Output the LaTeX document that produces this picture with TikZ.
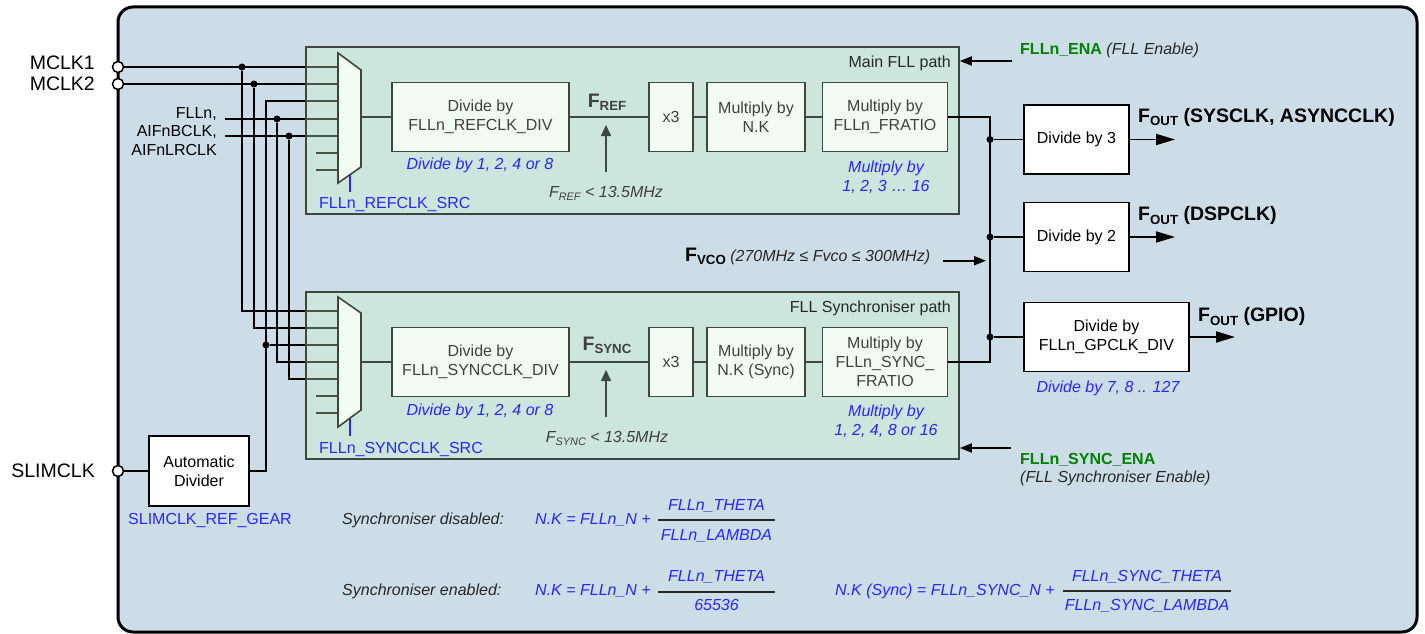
\documentclass[tikz,border=0pt]{standalone}
\usepackage{fontspec}
\setmainfont{Liberation Sans}
\usetikzlibrary{arrows.meta,calc}
\definecolor{bgblue}{RGB}{204,221,232}
\definecolor{panelc}{RGB}{204,244,203}
\definecolor{boxfill}{RGB}{242,252,242}
\definecolor{ink}{RGB}{62,72,62}
\definecolor{inktext}{RGB}{64,64,64}
\definecolor{myblue}{RGB}{40,40,250}
\definecolor{enagreen}{RGB}{0,128,0}
\definecolor{dark}{RGB}{40,40,40}
\newcommand{\fsub}[1]{\raisebox{-0.2em}{\scalebox{0.68}{#1}}}

\begin{document}
\begin{tikzpicture}[x=1pt,y=-1pt,
  every node/.style={font=\fontsize{16}{19}\selectfont,inner sep=0pt},
  wire/.style={line width=1.8pt},
  inkline/.style={line width=1.6pt,draw=ink},
  blk/.style={draw=ink,fill=boxfill,line width=1.6pt,text=inktext,align=center,minimum height=69pt},
  wbox/.style={draw=black,fill=white,line width=1.6pt,align=center,minimum height=69pt},
  dot/.style={circle,fill=black,minimum size=7pt},
  port/.style={circle,draw=black,fill=white,line width=1.5pt,minimum size=11pt},
  panel/.style={draw=ink,line width=1.6pt,fill=panelc,fill opacity=0.35,minimum width=653pt,minimum height=167pt},
  bluetxt/.style={text=myblue,font=\fontsize{16}{19}\selectfont\itshape},
  eqtxt/.style={text=dark,font=\fontsize{16}{19}\selectfont\itshape},
  big/.style={font=\fontsize{19.5}{22}\selectfont},
  outarrow/.style={line width=1.8pt,-{Triangle[length=19pt,width=11pt]}},
  enarrow/.style={line width=1.8pt,-{Triangle[length=12pt,width=9pt]}},
  uparrow/.style={inkline,-{Triangle[length=11pt,width=10pt]}},
  fracbar/.style={line width=2pt,draw=dark},
]
\useasboundingbox (0,0) rectangle (1425,634);

%外枠
\draw[line width=3pt,fill=bgblue,rounded corners=15pt](118,7)rectangle(1417,632);

%入力端子
\node[port](mclkA)at(118,67){};
\node[port](mclkB)at(118,84){};
\node[port](slim)at(118,471){};
\node[big,anchor=base east](lmclkA)at(95,70){MCLK1};
\node[big,anchor=base east](lmclkB)at(95,90){MCLK2};
\node[big,anchor=base east](lslim)at(95,477){SLIMCLK};
\node[anchor=base east](lfll)at(217,118){FLLn,};
\node[anchor=base east](laifb)at(217,136){AIFnBCLK,};
\node[anchor=base east](laiflr)at(217,155){AIFnLRCLK};

%セレクタ入力点
\coordinate(a1)at(338,67); \coordinate(b1)at(338,311);
\coordinate(a2)at(338,84); \coordinate(b2)at(338,328);
\coordinate(a3)at(338,101);\coordinate(b3)at(338,345);
\coordinate(a4)at(338,119);\coordinate(b4)at(338,362);
\coordinate(a5)at(338,136);\coordinate(b5)at(338,379);
\coordinate(a6)at(338,153);\coordinate(b6)at(338,396);
\coordinate(a7)at(338,170);\coordinate(b7)at(338,413);
\coordinate(fllIn)at(225,119);
\coordinate(aifIn)at(225,136);

%分岐点
\node[dot](t1)at(242,67){};
\node[dot](t2)at(254,84){};
\node[dot](t3)at(266,345){};
\node[dot](t4)at(277,119){};
\node[dot](t5)at(289,136){};

%SLIMCLK分周
\node[wbox,minimum width=100pt,minimum height=70pt](autodiv)at(199,471){Automatic\\Divider};
\node[anchor=base,text=myblue](lgear)at(210,524){SLIMCLK\_REF\_GEAR};

%配線
\draw[wire](mclkA.east)--(a1);
\draw[wire](mclkB.east)--(a2);
\draw[wire](fllIn)--(a4);
\draw[wire](aifIn)--(a5);
\draw[wire](t1)|-(b1);
\draw[wire](t2)|-(b2);
\draw[wire](t4)|-(b4);
\draw[wire](t5)|-(b5);
\draw[wire](slim.east)--(autodiv.west);
\draw[wire](autodiv.east)-|(a3-|t3)--(a3);
\draw[wire](t3)--(b3);
\draw[wire](a6)--++(-22,0); \draw[wire](a7)--++(-22,0); %空き入力
\draw[wire](b6)--++(-22,0); \draw[wire](b7)--++(-22,0); %空き入力

%パネル
\node[panel](pA)at(632.5,130.5){};
\node[panel](pB)at(632.5,375.5){};
\node[anchor=base east,text=dark](lpA)at(951,67){Main FLL path};
\node[anchor=base east,text=dark](lpB)at(951,312){FLL Synchroniser path};

%セレクタ
\draw[inkline,fill=boxfill](338,53)--(361,70)--(361,167)--(338,183)--cycle; %上
\draw[inkline,fill=boxfill](338,297)--(361,313)--(361,410)--(338,427)--cycle; %下
\coordinate(muxA)at(361,117);
\coordinate(muxB)at(361,362);
\coordinate(selA)at(350,175);
\coordinate(selB)at(350,419);
\draw[line width=1.4pt,myblue](selA)--++(0,17);
\draw[line width=1.4pt,myblue](selB)--++(0,17);
\node[anchor=base west,text=myblue](lsrcA)at(319,208){FLLn\_REFCLK\_SRC};
\node[anchor=base west,text=myblue](lsrcB)at(319,453){FLLn\_SYNCCLK\_SRC};

%上側ブロック
\node[blk,minimum width=177pt](divA)at(480.5,117){Divide by\\FLLn\_REFCLK\_DIV};
\node[blk,minimum width=44pt](x3A)at(671,117){x3};
\node[blk,minimum width=98pt](nkA)at(756,117){Multiply by\\N.K};
\node[blk,minimum width=125pt](frA)at(885,117){Multiply by\\FLLn\_FRATIO};
\draw[inkline](muxA)--(divA.west);
\draw[inkline](divA.east)--(x3A.west);
\draw[inkline](x3A.east)--(nkA.west);
\draw[inkline](nkA.east)--(frA.west);
\node[anchor=base,bluetxt](ldivA)at(480,169){Divide by 1, 2, 4 or 8};
\node[anchor=base,bluetxt,align=center](lfrA)at(886,191){Multiply by\\1, 2, 3 … 16};
\node[anchor=base,font=\fontsize{19.5}{22}\selectfont\bfseries,text=inktext](fref)at(607,107){F\fsub{REF}};
\coordinate(frefS)at(606,172);
\coordinate(frefE)at(606,125);
\draw[uparrow](frefS)--(frefE);
\node[anchor=base,eqtxt,text=inktext](lfref)at(606,197){F\fsub{REF} < 13.5MHz};

%下側ブロック
\node[blk,minimum width=177pt](divB)at(480.5,362){Divide by\\FLLn\_SYNCCLK\_DIV};
\node[blk,minimum width=44pt](x3B)at(671,362){x3};
\node[blk,minimum width=98pt](nkB)at(756,362){Multiply by\\N.K (Sync)};
\node[blk,minimum width=125pt](frB)at(885,362){Multiply by\\FLLn\_SYNC\_\\FRATIO};
\draw[inkline](muxB)--(divB.west);
\draw[inkline](divB.east)--(x3B.west);
\draw[inkline](x3B.east)--(nkB.west);
\draw[inkline](nkB.east)--(frB.west);
\node[anchor=base,bluetxt](ldivB)at(480,415){Divide by 1, 2, 4 or 8};
\node[anchor=base,bluetxt,align=center](lfrB)at(886,435){Multiply by\\1, 2, 4, 8 or 16};
\node[anchor=base,font=\fontsize{19.5}{22}\selectfont\bfseries,text=inktext](fsync)at(607,350){F\fsub{SYNC}};
\coordinate(fsyncS)at(606,417);
\coordinate(fsyncE)at(606,370);
\draw[uparrow](fsyncS)--(fsyncE);
\node[anchor=base,eqtxt,text=inktext](lfsync)at(607,442){F\fsub{SYNC} < 13.5MHz};

%イネーブル
\coordinate(enaS)at(1012,61);
\coordinate(senS)at(1011,448);
\draw[enarrow](enaS)--(enaS-|pA.east);
\draw[enarrow](senS)--(senS-|pB.east);
\node[anchor=base west](lena)at(1020,55){\textcolor{enagreen}{\bfseries FLLn\_ENA} \textcolor{dark}{\itshape (FLL Enable)}};
\node[anchor=base west,text=enagreen,font=\fontsize{16}{19}\selectfont\bfseries](lsen)at(1020,464){FLLn\_SYNC\_ENA};
\node[anchor=base west,eqtxt](lsen2)at(1020,482.5){(FLL Synchroniser Enable)};

%出力分周
\coordinate(busT)at(990,117);
\coordinate(busB)at(990,362);
\draw[wire](frA.east)--(busT)--(busB)--(frB.east);
\node[wbox,minimum width=105pt](div3)at(1076.5,139.5){Divide by 3};
\node[wbox,minimum width=105pt](div2)at(1076.5,237){Divide by 2};
\node[wbox,minimum width=165pt](gpdiv)at(1106.5,337){Divide by\\FLLn\_GPCLK\_DIV};
\node[dot](j1)at(busT|-div3.west){};
\node[dot](j2)at(busT|-div2.west){};
\node[dot](j3)at(busT|-gpdiv.west){};
\draw[wire](j1)--(div3.west);
\draw[wire](j2)--(div2.west);
\draw[wire](j3)--(gpdiv.west);
\coordinate(o1)at(1175,139.5);
\coordinate(o2)at(1175,237);
\coordinate(o3)at(1235,337);
\draw[outarrow](div3.east)--(o1);
\draw[outarrow](div2.east)--(o2);
\draw[outarrow](gpdiv.east)--(o3);
\node[anchor=base west,font=\fontsize{19.5}{22}\selectfont\bfseries](lout1)at(1138,122){F\fsub{OUT} (SYSCLK, ASYNCCLK)};
\node[anchor=base west,font=\fontsize{19.5}{22}\selectfont\bfseries](lout2)at(1138,220.5){F\fsub{OUT} (DSPCLK)};
\node[anchor=base west,font=\fontsize{19.5}{22}\selectfont\bfseries](lout3)at(1198,321.5){F\fsub{OUT} (GPIO)};
\node[anchor=base,bluetxt](lgp)at(1108,392){Divide by 7, 8 .. 127};

%VCO
\node[anchor=base west](lvco)at(685,261){{\fontsize{19.5}{22}\selectfont\bfseries F\fsub{VCO}} \textcolor{dark}{\itshape (270MHz ≤ Fvco ≤ 300MHz)}};
\coordinate(vcoS)at(943,260.7);
\draw[enarrow,shorten >=4pt](vcoS)--(vcoS-|busT);

%式
\node[anchor=base west,eqtxt](ldis)at(342,524){Synchroniser disabled:};
\node[anchor=base west,bluetxt](eq1)at(535,524){N.K = FLLn\_N +};
\node[anchor=base,bluetxt](eq1n)at(716.5,510){FLLn\_THETA};
\node[anchor=base,bluetxt](eq1d)at(716.5,540){FLLn\_LAMBDA};
\draw[fracbar](658,520)--(775,520);

\node[anchor=base west,eqtxt](lenb)at(342,595){Synchroniser enabled:};
\node[anchor=base west,bluetxt](eq2)at(535,595){N.K = FLLn\_N +};
\node[anchor=base,bluetxt](eq2n)at(716.5,581){FLLn\_THETA};
\node[anchor=base,bluetxt](eq2d)at(716.5,610){65536};
\draw[fracbar](658,591.5)--(775,591.5);

\node[anchor=base west,bluetxt](eq3)at(835,595){N.K (Sync) = FLLn\_SYNC\_N +};
\node[anchor=base,bluetxt](eq3n)at(1147,581.5){FLLn\_SYNC\_THETA};
\node[anchor=base,bluetxt](eq3d)at(1147,610){FLLn\_SYNC\_LAMBDA};
\draw[fracbar](1063,590.5)--(1231,590.5);
\end{tikzpicture}
\end{document}
